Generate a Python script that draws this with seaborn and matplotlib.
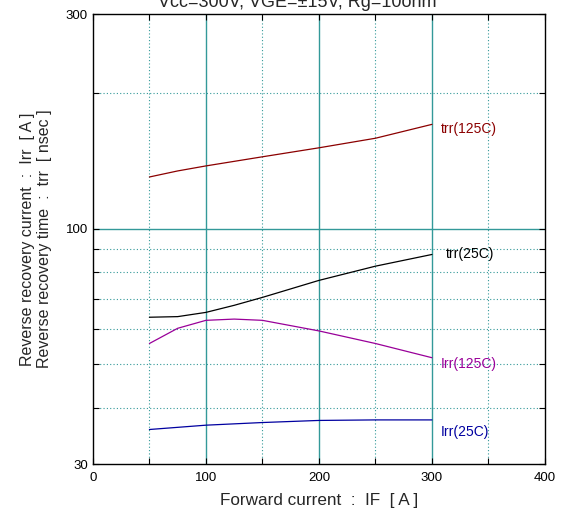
import pandas as pd
import seaborn as sns
import matplotlib.pyplot as plt
from matplotlib.ticker import FixedLocator, NullFormatter

# Data
if_trr125 = [50, 75, 100, 150, 200, 250, 300]
trr_125 = [130.4, 134.5, 138.0, 144.6, 151.4, 159.0, 170.7]

if_trr25 = [50, 75, 100, 125, 150, 200, 250, 300]
trr_25 = [63.6, 63.8, 65.2, 67.6, 70.4, 76.8, 82.6, 87.7]

if_irr125 = [50, 75, 100, 125, 150, 200, 250, 300]
irr_125 = [55.6, 60.1, 62.6, 63.0, 62.6, 59.3, 55.6, 51.7]

if_irr25 = [50, 100, 150, 200, 250, 300]
irr_25 = [35.8, 36.6, 37.1, 37.5, 37.6, 37.6]

series_names = ["trr(125C)", "trr(25C)", "Irr(125C)", "Irr(25C)"]
series_colors = ["#8b0000", "#000000", "#990099", "#0000a0"]

title_text = "Vcc=300V, VGE=\u00b115V, Rg=10ohm"
x_label = "Forward current  :  IF  [ A ]"
y_label = "Reverse recovery current  :  Irr  [ A ]\nReverse recovery time  :  trr  [ nsec ]"


def build_frame():
    frames = []
    for name, xs, ys in [
        (series_names[0], if_trr125, trr_125),
        (series_names[1], if_trr25, trr_25),
        (series_names[2], if_irr125, irr_125),
        (series_names[3], if_irr25, irr_25),
    ]:
        frames.append(pd.DataFrame({"IF": xs, "value": ys, "series": name}))
    return pd.concat(frames, ignore_index=True)


def main():
    sns.set_theme(style="white")
    plt.rcParams["font.family"] = ["Liberation Sans", "DejaVu Sans"]

    data = build_frame()

    fig = plt.figure(figsize=(5.7, 5.27), dpi=100)
    ax = fig.add_axes([0.163, 0.1195, 0.793, 0.8535])

    sns.lineplot(data=data, x="IF", y="value", hue="series",
                 palette=dict(zip(series_names, series_colors)),
                 linewidth=0.9, legend=False, ax=ax, sort=True)

    ax.set_yscale("log")
    ax.set_xlim(0, 400)
    ax.set_ylim(30, 300)

    # grid lines
    for x in [100, 200, 300]:
        ax.axvline(x, color="#339999", lw=1.0, zorder=0)
    for x in [50, 150, 250, 350]:
        ax.axvline(x, color="#339999", lw=0.8, ls=(0, (1, 2)), zorder=0)
    ax.axhline(100, color="#339999", lw=1.0, zorder=0)
    for y in [40, 50, 60, 70, 80, 90, 200]:
        ax.axhline(y, color="#339999", lw=0.8, ls=(0, (1, 2)), zorder=0)

    ax.yaxis.set_major_locator(FixedLocator([30, 100, 300]))
    ax.yaxis.set_minor_locator(FixedLocator([40, 50, 60, 70, 80, 90, 200]))
    ax.yaxis.set_minor_formatter(NullFormatter())
    ax.set_yticklabels(["30", "100", "300"])
    ax.xaxis.set_major_locator(FixedLocator([0, 100, 200, 300, 400]))
    ax.xaxis.set_minor_locator(FixedLocator([50, 150, 250, 350]))

    ax.tick_params(which="both", direction="in", top=True, right=True,
                   left=True, bottom=True, length=4, width=0.8,
                   colors="black", labelsize=9.5)
    ax.tick_params(axis="x", pad=6)

    for spine in ax.spines.values():
        spine.set_color("black")
        spine.set_linewidth(1.0)

    ax.set_xlabel(x_label, fontsize=12.3, labelpad=6)
    ax.set_ylabel(y_label, fontsize=11.5, labelpad=10)
    # title sits partly above the figure edge, as in the reference
    fig.text(0.521, 0.995, title_text, fontsize=13, ha="center", va="center")

    # curve labels
    ax.text(308, trr_125[-1] * 0.975, series_names[0], color=series_colors[0], fontsize=10, va="center")
    ax.text(312, trr_25[-1] * 1.0, series_names[1], color=series_colors[1], fontsize=10, va="center")
    ax.text(308, irr_125[-1] * 0.967, series_names[2], color=series_colors[2], fontsize=10, va="center")
    ax.text(308, irr_25[-1] * 0.94, series_names[3], color=series_colors[3], fontsize=10, va="center")

    fig.savefig("out.png", dpi=100)


if __name__ == "__main__":
    main()
